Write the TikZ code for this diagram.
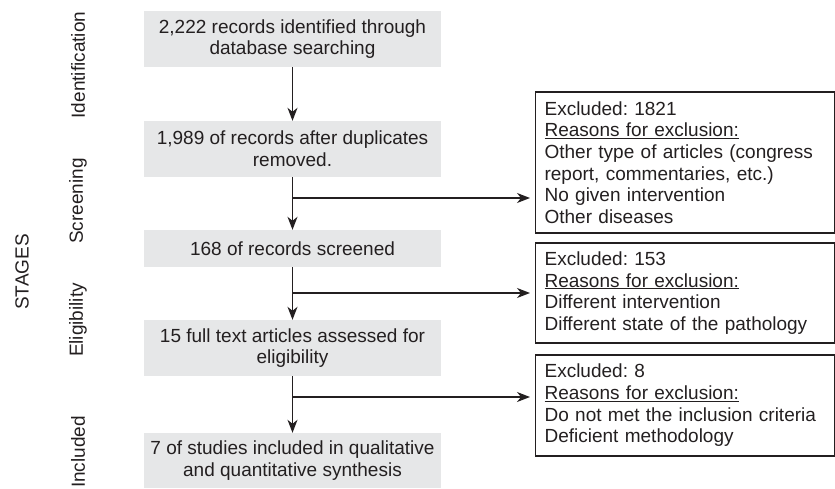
\documentclass[tikz,border=0pt]{standalone}
\usepackage{fontspec}
\setmainfont{Liberation Sans}
\usetikzlibrary{arrows.meta}
\definecolor{ink}{HTML}{231F20}
\definecolor{boxgray}{HTML}{E6E7E8}
\frenchspacing
\begin{document}
\begin{tikzpicture}[x=1pt,y=-1pt,
  every node/.style={font=\fontsize{19pt}{21.7pt}\selectfont\frenchspacing, text=ink},
  graybox/.style={fill=boxgray, draw=none, minimum width=297pt, align=center, inner sep=0pt},
  exbox/.style={draw=ink, line width=1.2pt, anchor=west, minimum width=299pt, text width=281pt, align=left, inner xsep=9pt, inner ysep=0pt},
  stagelbl/.style={rotate=90},
  flow/.style={draw=ink, line width=1.3pt, -{Stealth[length=13pt,width=10pt,inset=4pt]}},
  branch/.style={draw=ink, line width=1.3pt}
]
\useasboundingbox (0,0) rectangle (835,488);

% stage labels
\node[stagelbl] (stages) at (22,272) {STAGES};
\node[stagelbl] (sid) at (78,65) {Identification};
\node[stagelbl] (sscr) at (78,201) {Screening};
\node[stagelbl] (selig) at (78,320) {Eligibility};
\node[stagelbl] (sinc) at (78,452) {Included};

% main flow boxes
\node[graybox, minimum height=56pt] (b1) at (292.5,39) {2,222 records identified through\\database searching};
\node[graybox, minimum height=56pt] (b2) at (292.5,149) {1,989 of records after duplicates\\removed.};
\node[graybox, minimum height=37pt] (b3) at (292.5,248.5) {168 of records screened};
\node[graybox, minimum height=56pt] (b4) at (292.5,348) {15 full text articles assessed for\\eligibility};
\node[graybox, minimum height=55pt] (b5) at (292.5,460.5) {7 of studies included in qualitative\\and quantitative synthesis};

% exclusion boxes
\node[exbox, minimum height=141pt] (ra) at (535,162.5) {Excluded: 1821\\\underline{Reasons for exclusion:}\\Other type of articles (congress\\report, commentaries, etc.)\\No given intervention\\Other diseases};
\node[exbox, minimum height=100pt] (rb) at (535,293) {Excluded: 153\\\underline{Reasons for exclusion:}\\Different intervention\\Different state of the pathology};
\node[exbox, minimum height=101pt] (rc) at (535,405.5) {Excluded: 8\\\underline{Reasons for exclusion:}\\Do not met the inclusion criteria\\Deficient methodology};

% branch points
\coordinate (ja) at (292.5,198);
\coordinate (jb) at (292.5,293);
\coordinate (jc) at (292.5,397);

% vertical flow
\draw[flow] (b1.south) -- (b2.north);
\draw[flow] (b2.south) -- (b3.north);
\draw[flow] (b3.south) -- (b4.north);
\draw[flow] (b4.south) -- (b5.north);

% side arrows
\draw[flow, shorten >=5pt] (ja) -- (ja -| ra.west);
\draw[flow, shorten >=5pt] (jb) -- (jb -| rb.west);
\draw[flow, shorten >=5pt] (jc) -- (jc -| rc.west);
\end{tikzpicture}
\end{document}
